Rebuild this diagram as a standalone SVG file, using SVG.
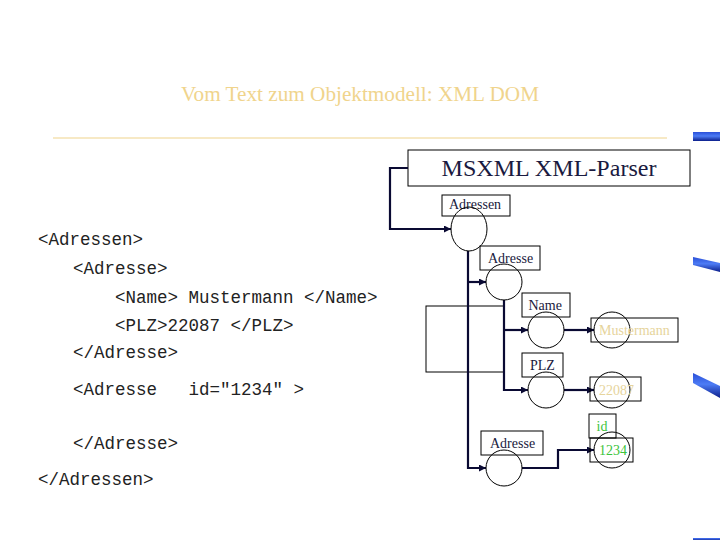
<svg xmlns="http://www.w3.org/2000/svg" width="720" height="540" viewBox="0 0 720 540">
  <defs>
    <linearGradient id="blue" x1="0" y1="0" x2="0" y2="1">
      <stop offset="0" stop-color="#2a4fd8"/>
      <stop offset="0.45" stop-color="#4d7cf5"/>
      <stop offset="1" stop-color="#0c1f8c"/>
    </linearGradient>
    <marker id="arr" markerUnits="userSpaceOnUse" markerWidth="8" markerHeight="8" refX="7" refY="3.5" orient="auto">
      <path d="M0,0 L7,3.5 L0,7 z" fill="#0a0a33"/>
    </marker>
    <style>
      .code{font-family:"Liberation Mono","Courier New",monospace;font-size:17.5px;fill:#222;white-space:pre}
      .lbl{font-family:"Liberation Serif","Times New Roman",serif;font-size:14px;fill:#1a1a40}
      .box{fill:none;stroke:#000;stroke-width:1}
      .node{fill:none;stroke:#000;stroke-width:1}
      .conn{fill:none;stroke:#0a0a33;stroke-width:2.2}
      .tan{fill:#e6d49c}
      .green{fill:#3cc43c}
      .deco{fill:url(#blue)}
    </style>
  </defs>
  <rect width="720" height="540" fill="#fff"/>

  <!-- title -->
  <text x="181" y="101" font-family="Liberation Serif, Times New Roman, serif" font-size="21" fill="#f0d48c" textLength="358" lengthAdjust="spacingAndGlyphs">Vom Text zum Objektmodell: XML DOM</text>
  <line x1="53" y1="138" x2="667" y2="138" stroke="#f0d48c" stroke-width="1.2"/>

  <!-- decorations -->
  <rect class="deco" x="693" y="132" width="27" height="9"/>
  <polygon class="deco" points="693,257 720,263 720,272 693,265"/>
  <polygon class="deco" points="693,373 720,386 720,398 693,383"/>
  <rect class="deco" x="693" y="538" width="27" height="2"/>

  <!-- XML source -->
  <g id="code">
    <text class="code" x="38" y="245">&lt;Adressen&gt;</text>
    <text class="code" x="73" y="274">&lt;Adresse&gt;</text>
    <text class="code" x="115" y="303">&lt;Name&gt; Mustermann &lt;/Name&gt;</text>
    <text class="code" x="115" y="331">&lt;PLZ&gt;22087 &lt;/PLZ&gt;</text>
    <text class="code" x="73" y="358">&lt;/Adresse&gt;</text>
    <text class="code" x="73" y="395" xml:space="preserve">&lt;Adresse   id="1234" &gt;</text>
    <text class="code" x="73" y="449">&lt;/Adresse&gt;</text>
    <text class="code" x="38" y="485">&lt;/Adressen&gt;</text>
  </g>

  <!-- background rectangle -->
  <rect id="frame" x="426" y="306" width="78" height="66" fill="none" stroke="#000" stroke-width="1"/>

  <!-- parser -->
  <g id="parser">
    <rect class="box" x="408" y="150" width="282" height="36"/>
    <text x="549" y="176" text-anchor="middle" font-family="Liberation Serif, Times New Roman, serif" font-size="23" fill="#1a1a40" textLength="215" lengthAdjust="spacingAndGlyphs">MSXML XML-Parser</text>
  </g>

  <!-- connectors -->
  <g id="connectors">
    <path class="conn" d="M408,168 H390 V229 H451" marker-end="url(#arr)"/>
    <path class="conn" d="M468,251 V468 H486" marker-end="url(#arr)"/>
    <path class="conn" d="M468,282 H486" marker-end="url(#arr)"/>
    <path class="conn" d="M504,300 V390 H528" marker-end="url(#arr)"/>
    <path class="conn" d="M504,330 H528" marker-end="url(#arr)"/>
    <path class="conn" d="M564,330 H594" marker-end="url(#arr)"/>
    <path class="conn" d="M564,390 H594" marker-end="url(#arr)"/>
    <path class="conn" d="M522,468 H558 V450 H594" marker-end="url(#arr)"/>
  </g>

  <!-- nodes -->
  <g id="adressen">
    <rect class="box" x="442" y="195" width="68" height="21"/>
    <text class="lbl" x="449" y="208.5">Adressen</text>
    <ellipse class="node" cx="469" cy="229" rx="18" ry="22"/>
  </g>
  <g id="adresse1">
    <rect class="box" x="480" y="246" width="60" height="24"/>
    <text class="lbl" x="488" y="263">Adresse</text>
    <circle class="node" cx="504" cy="282" r="18"/>
  </g>
  <g id="name">
    <rect class="box" x="522" y="293" width="48" height="24"/>
    <text class="lbl" x="528.5" y="310">Name</text>
    <circle class="node" cx="546" cy="330" r="18"/>
  </g>
  <g id="mustermann">
    <rect class="box" x="591" y="318" width="87" height="24"/>
    <circle class="node" cx="612" cy="330" r="18"/>
    <text class="lbl tan" x="599" y="335">Mustermann</text>
  </g>
  <g id="plz">
    <rect class="box" x="522" y="353" width="41" height="24"/>
    <text class="lbl" x="530" y="369.5">PLZ</text>
    <circle class="node" cx="546" cy="390" r="18"/>
  </g>
  <g id="plzvalue">
    <rect class="box" x="590" y="377" width="51" height="24"/>
    <circle class="node" cx="612" cy="390" r="18"/>
    <text class="lbl tan" x="599" y="394.5">22087</text>
  </g>
  <g id="adresse2">
    <rect class="box" x="481" y="431" width="62" height="24"/>
    <text class="lbl" x="490" y="447.5">Adresse</text>
    <circle class="node" cx="504" cy="468" r="18"/>
  </g>
  <g id="idattr">
    <rect class="box" x="589" y="414" width="27" height="24"/>
    <text class="lbl green" x="596.5" y="431">id</text>
  </g>
  <g id="idvalue">
    <rect class="box" x="590" y="438" width="43" height="24"/>
    <circle class="node" cx="612" cy="450" r="18"/>
    <text class="lbl green" x="599" y="454.5">1234</text>
  </g>
</svg>
